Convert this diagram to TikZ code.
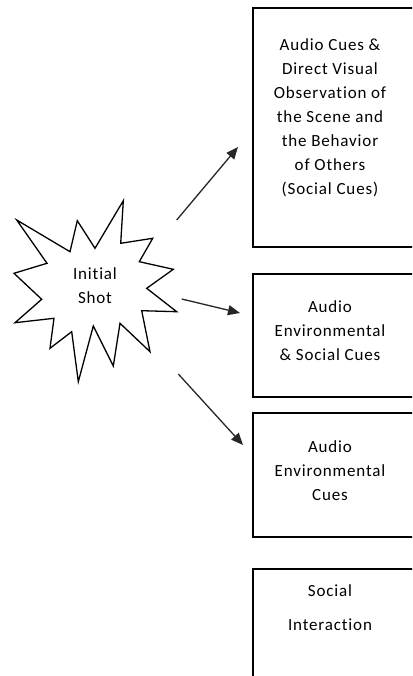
\documentclass[tikz,border=0pt]{standalone}
\usepackage{fontspec}
\setmainfont{Carlito}[LetterSpace=5,Ligatures=NoCommon]
\usetikzlibrary{arrows.meta}
\begin{document}
\begin{tikzpicture}[x=1pt,y=-1pt,
  outline/.style={draw=black,line width=1.3pt},
  cuebox/.style={outline},
  label/.style={inner sep=0pt,align=center,anchor=north,
    font=\fontsize{17}{24}\selectfont},
  link/.style={draw=black!85,line width=1.3pt,
    -{Triangle[length=12pt,width=10pt]}}]
  \useasboundingbox (0,0) rectangle (412,676);
  \begin{scope}
    \clip (0,0) rectangle (412,676);
    % boxes on the right, running off the page edge
    \draw[cuebox] (253,8) rectangle (420,247);
    \draw[cuebox] (253,274) rectangle (420,397);
    \draw[cuebox] (253,413) rectangle (420,537);
    \draw[cuebox] (253,569) rectangle (420,700);
  \end{scope}
  % explosion outline
  \draw[outline,line join=miter]
    (16.7,220) -- (70,251.7) -- (77.3,220.7) -- (95,248.3) -- (123.3,200.7)
    -- (120.7,243.3) -- (152.7,238.3) -- (139.3,261.7) -- (173.3,269.3)
    -- (146.7,288.3) -- (176.7,311.7) -- (141.7,310.7) -- (150,351.7)
    -- (120,323.3) -- (113.3,366) -- (93.3,326) -- (78.3,381.7)
    -- (71.7,331.7) -- (50,348.3) -- (54,318.3) -- (15,322.7)
    -- (41.7,299.3) -- (14,273.3) -- (47,263.3) -- cycle;
  \node[label,anchor=center] (shot) at (95,286) {Initial\\Shot};
  % box texts
  \node[label] (t1) at (330,38) {Audio Cues \&\\Direct Visual\\Observation of\\the Scene and\\the Behavior\\of Others\\(Social Cues)};
  \node[label] (t2) at (330,300) {Audio\\Environmental\\\& Social Cues};
  \node[label] (t3) at (330,440) {Audio\\Environmental\\Cues};
  \node[label,font=\fontsize{17}{34}\selectfont] (t4) at (330,584) {Social\\Interaction};
  % arrows out of the shot
  \coordinate (a1s) at (176.7,220);
  \coordinate (a1e) at (238,147);
  \coordinate (a2s) at (181.7,299);
  \coordinate (a2e) at (240,313);
  \coordinate (a3s) at (178.3,374);
  \coordinate (a3e) at (243,445);
  \draw[link] (a1s) -- (a1e);
  \draw[link] (a2s) -- (a2e);
  \draw[link] (a3s) -- (a3e);
\end{tikzpicture}
\end{document}
